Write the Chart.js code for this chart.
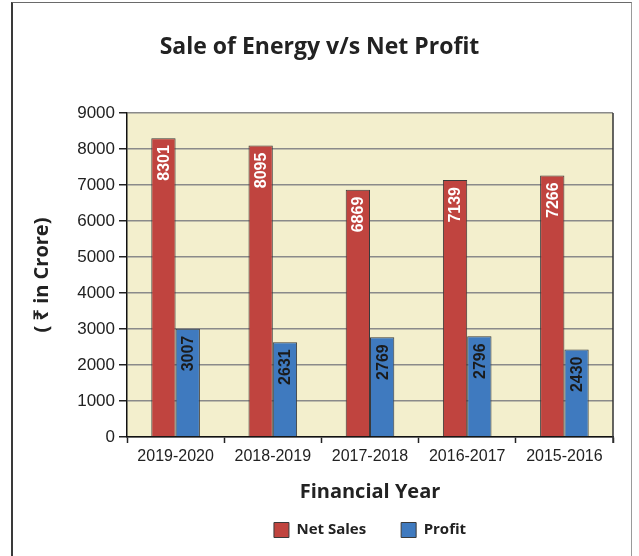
<!DOCTYPE html>
<html>
<head>
<meta charset="utf-8">
<script src="https://cdn.jsdelivr.net/npm/chart.js@4.4.1/dist/chart.umd.min.js"></script>
<style>
  html, body { margin: 0; padding: 0; background: #fff; }
  .wrap { position: relative; width: 639px; height: 556px; }
  .frame {
    position: absolute; left: 11px; top: 2px; width: 618px; height: 570px;
    border-left: 2px solid #3a3a3a; border-top: 1px solid #6a6a6a; border-right: 1px solid #9a9a9a;
    pointer-events: none;
  }
</style>
</head>
<body>
<div class="wrap">
  <canvas id="chart" width="639" height="556"></canvas>
  <div class="frame"></div>
</div>
<script>
// Data
const years = ["2019-2020", "2018-2019", "2017-2018", "2016-2017", "2015-2016"];
const netSales = [8301, 8095, 6869, 7139, 7266];
const profit = [3007, 2631, 2769, 2796, 2430];
const yTicks = [0, 1000, 2000, 3000, 4000, 5000, 6000, 7000, 8000, 9000];

const RED = "#c0443f";
const BLUE = "#3f7abf";
const PLOT_BG = "#f3efcd";

// cream plot area + right edge of the plot frame
const plotFrame = {
  id: "plotFrame",
  beforeDraw(chart) {
    const { ctx, chartArea: a } = chart;
    ctx.save();
    ctx.fillStyle = PLOT_BG;
    ctx.fillRect(a.left, a.top, a.right - a.left, a.bottom - a.top);
    ctx.restore();
  },
  afterDatasetsDraw(chart) {
    const { ctx, chartArea: a } = chart;
    ctx.save();
    ctx.strokeStyle = "#333";
    ctx.lineWidth = 1.5;
    ctx.beginPath();
    ctx.moveTo(a.right, a.top);
    ctx.lineTo(a.right, a.bottom + 6);
    ctx.stroke();
    ctx.restore();
  }
};

// vertical value labels just inside the top of each bar
const barLabels = {
  id: "barLabels",
  afterDatasetsDraw(chart) {
    const { ctx } = chart;
    chart.data.datasets.forEach((ds, i) => {
      const meta = chart.getDatasetMeta(i);
      meta.data.forEach((bar, j) => {
        ctx.save();
        ctx.translate(bar.x, bar.y);
        ctx.rotate(-Math.PI / 2);
        ctx.font = "bold 16px 'Liberation Sans', Arial, sans-serif";
        ctx.fillStyle = i === 0 ? "#ffffff" : "#1b1b1b";
        ctx.textAlign = "right";
        ctx.textBaseline = "middle";
        ctx.fillText(String(ds.data[j]), -7, 1);
        ctx.restore();
      });
    });
  }
};

const ctx = document.getElementById("chart").getContext("2d");

new Chart(ctx, {
  type: "bar",
  data: {
    labels: years,
    datasets: [
      {
        label: "Net Sales",
        data: netSales,
        backgroundColor: RED,
        borderColor: "#3a3a3a",
        borderWidth: 1
      },
      {
        label: "Profit",
        data: profit,
        backgroundColor: BLUE,
        borderColor: "#3a3a3a",
        borderWidth: 1
      }
    ]
  },
  options: {
    responsive: false,
    animation: false,
    layout: { padding: { left: 26, right: 26, top: 0, bottom: 8.5 } },
    datasets: {
      bar: { categoryPercentage: 0.5, barPercentage: 1.0 }
    },
    plugins: {
      title: {
        display: true,
        text: "Sale of Energy v/s Net Profit",
        color: "#222",
        font: { size: 23, weight: "bold", family: "'Open Sans', 'Noto Sans', sans-serif" },
        padding: { top: 34, bottom: 51.4 }
      },
      legend: {
        position: "bottom",
        fullSize: false,
        labels: {
          color: "#222",
          boxWidth: 15,
          boxHeight: 15,
          padding: 35,
          font: { size: 15, weight: "bold", family: "'Open Sans', 'Noto Sans', sans-serif" }
        }
      },
      tooltip: { enabled: false }
    },
    scales: {
      x: {
        afterFit(scale) { scale.height = 50.5; },
        grid: {
          offset: true,
          drawOnChartArea: false,
          drawTicks: true,
          tickLength: 6,
          tickColor: "#222",
          tickWidth: 1.5
        },
        border: { color: "#111", width: 1.5 },
        ticks: {
          color: "#222",
          padding: 4,
          font: { size: 16, family: "'Liberation Sans', Arial, sans-serif" }
        },
        title: {
          display: true,
          text: "Financial Year",
          color: "#222",
          font: { size: 20, weight: "bold", family: "'Open Sans', 'Noto Sans', sans-serif" },
          padding: { top: 0, bottom: -17 }
        }
      },
      y: {
        min: 0,
        max: 9000,
        afterFit(scale) { scale.width = 101; },
        afterBuildTicks(scale) { scale.ticks = yTicks.map((v) => ({ value: v })); },
        grid: {
          color: "#8a8a8a",
          lineWidth: 1.5,
          tickLength: 8,
          tickColor: "#222",
          tickWidth: 1.5
        },
        border: { color: "#111", width: 1.5 },
        ticks: {
          color: "#222",
          padding: 4,
          font: { size: 17, family: "'Liberation Sans', Arial, sans-serif" },
          callback: (value) => String(value)
        },
        title: {
          display: true,
          text: "( \u20b9 in Crore)",
          color: "#222",
          font: { size: 20, weight: "bold", family: "'Open Sans', 'Noto Sans', sans-serif" },
          padding: { top: 4, bottom: 0 }
        }
      }
    }
  },
  plugins: [plotFrame, barLabels]
});
</script>
</body>
</html>
